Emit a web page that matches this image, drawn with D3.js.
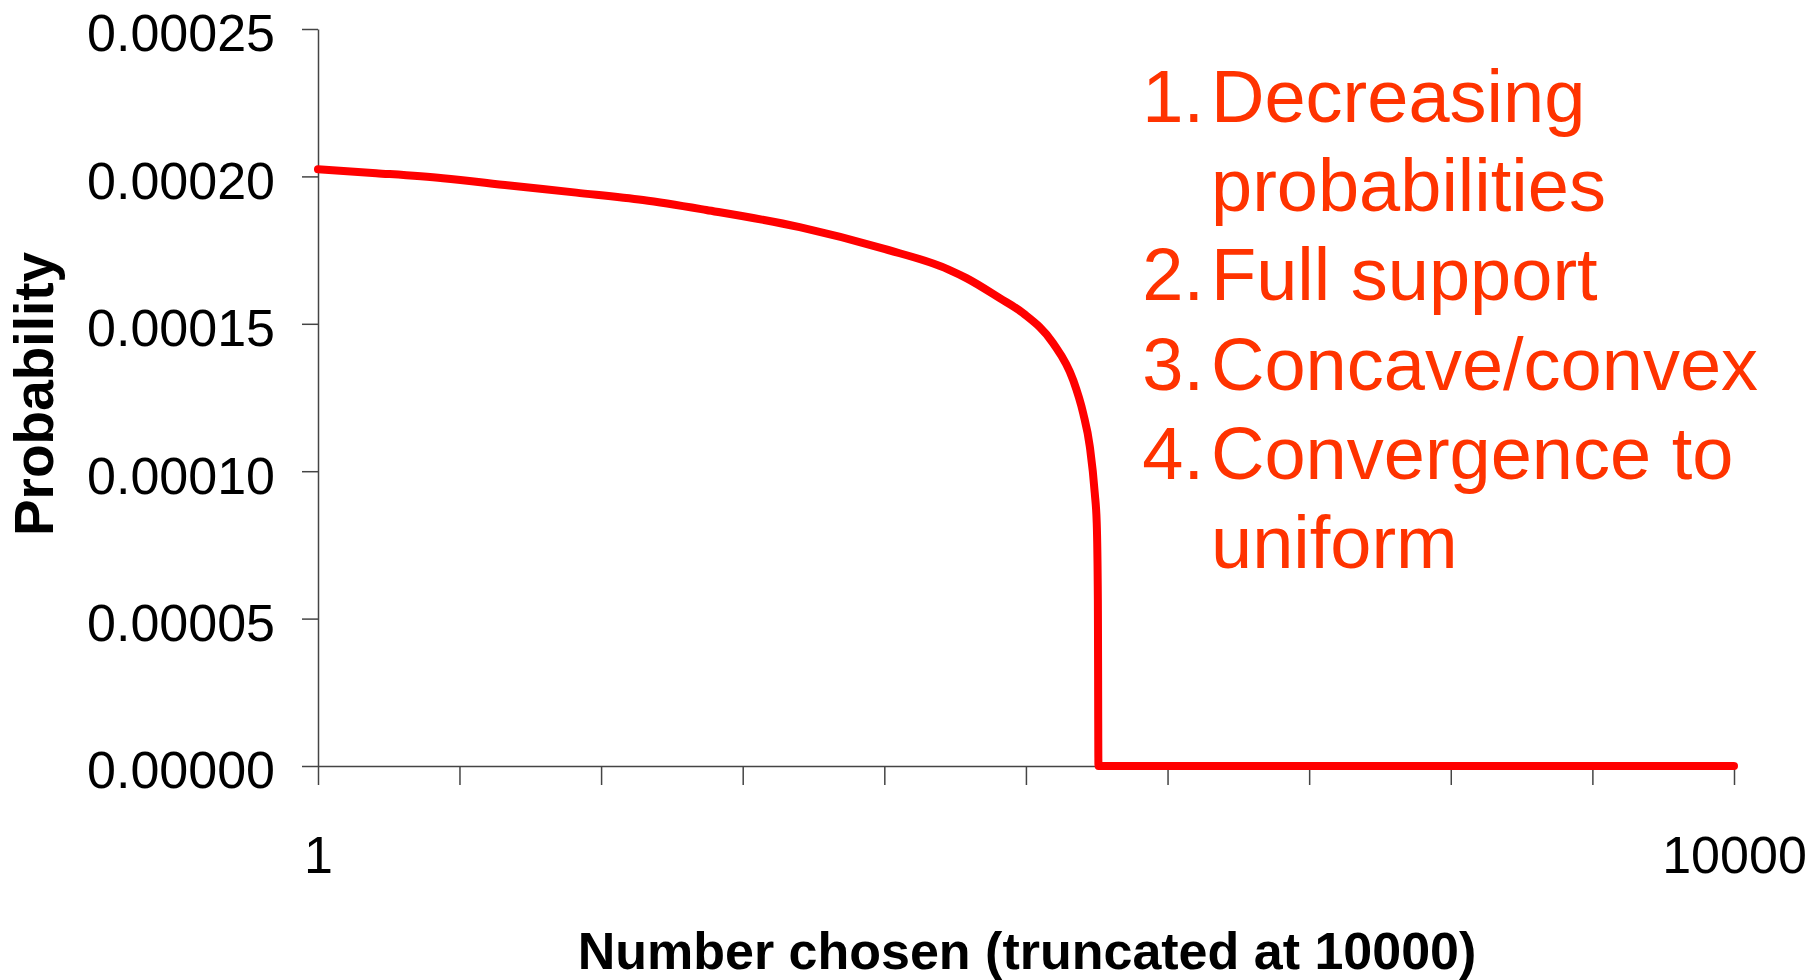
<!DOCTYPE html>
<html>
<head>
<meta charset="utf-8">
<script src="https://cdn.jsdelivr.net/npm/d3@7"></script>
<style>
  body { margin: 0; background: #fff; }
  svg { display: block; font-family: "Liberation Sans", Arial, sans-serif; }
</style>
</head>
<body>
<svg width="1815" height="980"></svg>
<script>
  // values
  var numberChosen = [1, 412, 883, 1354, 1825, 2296, 2743, 3402, 4000, 4454, 4580, 4815, 4980, 5191, 5333, 5404, 5451, 5486, 5500, 5508, 5512, 10000];
  var probability = [0.0002024, 0.0002011, 0.0001994, 0.0001969, 0.0001945, 0.000192, 0.0001886, 0.0001828, 0.0001754, 0.0001684, 0.0001655, 0.0001587, 0.0001536, 0.0001435, 0.000131, 0.0001197, 0.0001084, 0.0000926, 0.0000824, 0.0000564, 0, 0];

  var yTicks = [0, 0.00005, 0.0001, 0.00015, 0.0002, 0.00025];
  var xTicks = [1, 1000, 2000, 3000, 4000, 5000, 6000, 7000, 8000, 9000, 10000];
  var xTickLabels = { 1: "1", 10000: "10000" };

  var notes = [
    { num: "1.", lines: ["Decreasing", "probabilities"] },
    { num: "2.", lines: ["Full support"] },
    { num: "3.", lines: ["Concave/convex"] },
    { num: "4.", lines: ["Convergence to", "uniform"] }
  ];

  var svg = d3.select("svg");

  var x = d3.scaleLinear().domain([1, 10000]).range([318, 1734]);
  var y = d3.scaleLinear().domain([0, 0.00025]).range([766, 29]);

  var yAxis = svg
    .append("g")
    .attr("transform", "translate(318,0)")
    .call(
      d3
        .axisLeft(y)
        .tickValues(yTicks)
        .tickSize(16)
        .tickSizeOuter(0)
        .tickPadding(27)
        .tickFormat(d3.format(".5f"))
    );

  var xAxis = svg
    .append("g")
    .attr("transform", "translate(0,766)")
    .call(
      d3
        .axisBottom(x)
        .tickValues(xTicks)
        .tickSize(19)
        .tickSizeOuter(0)
        .tickPadding(51)
        .tickFormat(function (d) {
          return xTickLabels[d] || "";
        })
    );

  [xAxis, yAxis].forEach(function (g) {
    g.attr("font-family", null).attr("font-size", null);
    g.selectAll("path, line").attr("stroke", "#444").attr("stroke-width", 1.5);
    g.selectAll("text").attr("fill", "#000").style("font-size", "52px");
  });
  yAxis.selectAll("text").attr("dy", "0.42em");

  var points = numberChosen.map(function (n, i) {
    return [n, probability[i]];
  });

  var line = d3
    .line()
    .curve(d3.curveMonotoneX)
    .x(function (d) {
      return x(d[0]);
    })
    .y(function (d) {
      return y(d[1]);
    });

  svg
    .append("path")
    .datum(points)
    .attr("d", line)
    .attr("fill", "none")
    .attr("stroke", "#ff0000")
    .attr("stroke-width", 8)
    .attr("stroke-linejoin", "round")
    .attr("stroke-linecap", "round");

  // axis titles
  svg
    .append("text")
    .attr("transform", "translate(53,394) rotate(-90)")
    .attr("text-anchor", "middle")
    .style("font-size", "55px")
    .style("font-weight", "bold")
    .text("Probability");

  svg
    .append("text")
    .attr("x", 1027)
    .attr("y", 969)
    .attr("text-anchor", "middle")
    .style("font-size", "52px")
    .style("font-weight", "bold")
    .text("Number chosen (truncated at 10000)");

  // numbered notes
  var note = svg.append("g").attr("fill", "#ff3300").style("font-size", "74px");
  var row = 0;
  notes.forEach(function (n) {
    var base = 122 + row * 89.2;
    note
      .append("text")
      .attr("x", 1204)
      .attr("y", base)
      .attr("text-anchor", "end")
      .text(n.num);
    n.lines.forEach(function (t) {
      note
        .append("text")
        .attr("x", 1211)
        .attr("y", 122 + row * 89.2)
        .text(t);
      row++;
    });
  });
</script>
</body>
</html>
